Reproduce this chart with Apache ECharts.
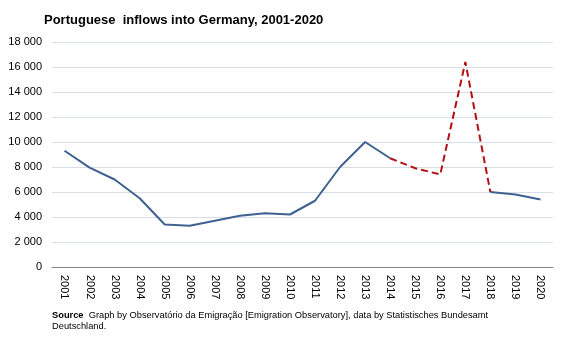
<!DOCTYPE html>
<html>
<head>
<meta charset="utf-8">
<script src="https://cdn.jsdelivr.net/npm/echarts@6/dist/echarts.min.js"></script>
<style>
  html, body { margin: 0; padding: 0; background: #fff; }
  #chart { width: 567px; height: 340px; }
</style>
</head>
<body>
<div id="chart"></div>
<script>
// Portuguese inflows into Germany, 2001-2020
const years = ['2001','2002','2003','2004','2005','2006','2007','2008','2009','2010',
               '2011','2012','2013','2014','2015','2016','2017','2018','2019','2020'];
// Solid line: reported years
const inflowsSolid = [9300, 7950, 7000, 5500, 3400, 3300, 3700, 4100, 4300, 4200,
                      5300, 8000, 10000, 8700, null, null, null, 6000, 5800, 5400];
// Dashed line: 2014-2018 segment
const inflowsDashed = [null, null, null, null, null, null, null, null, null, null,
                       null, null, null, 8700, 7900, 7400, 16400, 6000, null, null];
const yTicks = { min: 0, max: 18000, interval: 2000 };

const chart = echarts.init(document.getElementById('chart'));
const font = 'Liberation Sans, Arial, sans-serif';

chart.setOption({
  animation: false,
  textStyle: { fontFamily: font },
  title: {
    text: 'Portuguese  inflows into Germany, 2001-2020',
    left: 39, top: 9,
    textStyle: { fontSize: 13, fontWeight: 'bold', color: '#000', fontFamily: font }
  },
  graphic: [{
    type: 'text', left: 52, top: 311,
    style: {
      rich: {
        b: { fontWeight: 'bold', fontSize: 9.3, fill: '#000', fontFamily: font, lineHeight: 10.5 },
        n: { fontSize: 9.3, fill: '#000', fontFamily: font, lineHeight: 10.5 }
      },
      text: '{b|Source}{n|  Graph by Observatório da Emigração [Emigration Observatory], data by Statistisches Bundesamt}\n{n|Deutschland.}'
    }
  }],
  grid: { left: 52, right: 14, top: 42, bottom: 73 },
  xAxis: {
    type: 'category', data: years, boundaryGap: true,
    axisLine: { lineStyle: { color: '#868686', width: 1 } },
    axisTick: { show: false },
    axisLabel: { rotate: -90, color: '#000', fontSize: 11, margin: 8, interval: 0, fontFamily: font }
  },
  yAxis: {
    type: 'value', min: yTicks.min, max: yTicks.max, interval: yTicks.interval,
    axisLine: { show: false }, axisTick: { show: false },
    splitLine: { lineStyle: { color: '#d9dee6', width: 1 } },
    axisLabel: {
      color: '#000', fontSize: 11, margin: 10, fontFamily: font,
      formatter: v => String(v).replace(/\B(?=(\d{3})+(?!\d))/g, ' ')
    }
  },
  series: [
    {
      type: 'line', data: inflowsSolid, symbol: 'none', connectNulls: false,
      lineStyle: { color: '#3f6190', width: 2 }, z: 2
    },
    {
      type: 'line', data: inflowsDashed, symbol: 'none', connectNulls: false,
      lineStyle: { color: '#b40d14', width: 2, type: [7, 4] }, z: 3
    }
  ]
});
</script>
</body>
</html>
